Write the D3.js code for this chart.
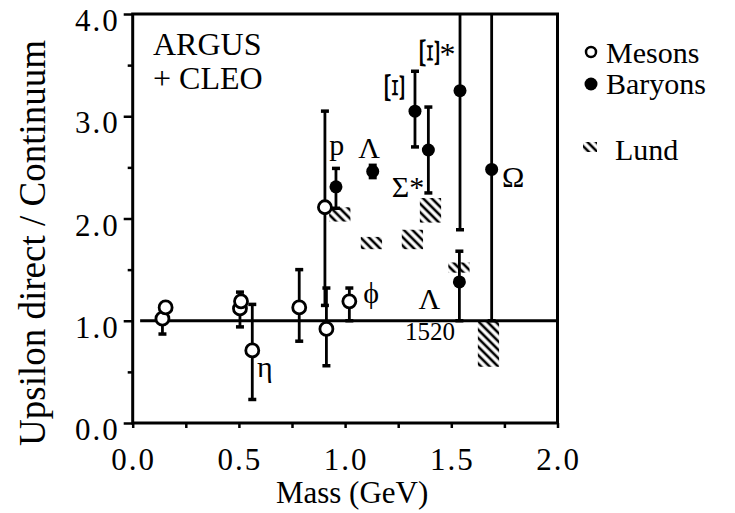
<!DOCTYPE html>
<html>
<head>
<meta charset="utf-8">
<script src="https://cdn.jsdelivr.net/npm/d3@7"></script>
<style>
  body { margin: 0; background: #fff; }
  text { font-family: "Liberation Serif", "Times New Roman", serif; fill: #000; }
</style>
</head>
<body>
<script>
// [mass, ratio, errLow, errHigh]  (null = no error bar)
var mesons = [
  [0.140, 1.02, 0.87, 1.14],
  [0.155, 1.13, null, null],
  [0.505, 1.12, 0.94, 1.28],
  [0.510, 1.19, null, null],
  [0.563, 0.71, 0.23, 1.16],
  [0.784, 1.13, 0.80, 1.50],
  [0.905, 2.11, 1.15, 3.05],
  [0.912, 0.92, 0.56, 1.32],
  [1.020, 1.19, 1.00, 1.32]
];
var baryons = [
  [0.957, 2.31, 2.10, 2.49],
  [1.130, 2.46, 2.40, 2.52],
  [1.329, 3.05, 2.70, 3.44],
  [1.392, 2.67, 2.25, 3.09],
  [1.541, 3.25, 1.89, 4.00],
  [1.690, 2.48, 1.00, 4.00],
  [1.538, 1.38, 1.00, 1.68]
];
// Lund prediction bands: [mass, low, high]
var lund = [
  [0.975, 1.97, 2.11],
  [1.124, 1.70, 1.82],
  [1.317, 1.70, 1.89],
  [1.402, 1.96, 2.20],
  [1.536, 1.47, 1.57],
  [1.675, 0.55, 0.99]
];
// particle labels: [text, mass, ratio, size, rotate]
var labels = [
  ["p", 0.925, 2.62, 30, 0],
  ["Λ", 1.062, 2.59, 30, 0],
  ["Ξ", 1.235, 3.28, 30, 90],
  ["Ξ", 1.400, 3.62, 30, 90],
  ["*", 1.445, 3.50, 32, 0],
  ["Σ*", 1.220, 2.21, 30, 0],
  ["Ω", 1.739, 2.31, 30, 0],
  ["ϕ", 1.085, 1.17, 30, 0],
  ["η", 0.585, 0.45, 30, 0],
  ["Λ", 1.345, 1.115, 30, 0],
  ["1520", 1.282, 0.81, 25, 0]
];
var xTicks = [0, 0.5, 1.0, 1.5, 2.0];
var yTicks = [0, 1, 2, 3, 4];

var width = 735, height = 513;
var pLeft = 132.7, pRight = 557.5, pTop = 14, pBottom = 423;

var svg = d3.select("body").append("svg")
  .attr("width", width).attr("height", height);

var x = d3.scaleLinear().domain([0, 2]).range([pLeft, pRight]);
var y = d3.scaleLinear().domain([0, 4]).range([pBottom, pTop]);

// hatch pattern for Lund
var defs = svg.append("defs");
defs.append("pattern")
  .attr("id", "hatch")
  .attr("patternUnits", "userSpaceOnUse")
  .attr("width", 6).attr("height", 6)
  .attr("patternTransform", "rotate(-45)")
  .append("line")
  .attr("x1", 3).attr("y1", 0).attr("x2", 3).attr("y2", 6)
  .attr("stroke", "#000").attr("stroke-width", 2.6);

// axes (ticks outward)
var xAxis = svg.append("g")
  .attr("transform", "translate(0," + pBottom + ")")
  .call(d3.axisBottom(x).tickValues(d3.range(0, 2.01, 0.25)).tickSize(5).tickFormat(""));
var yAxis = svg.append("g")
  .attr("transform", "translate(" + pLeft + ",0)")
  .call(d3.axisLeft(y).tickValues(d3.range(0, 4.01, 0.5)).tickSize(5).tickFormat(""));
[xAxis, yAxis].forEach(function(a){
  a.select(".domain").remove();
  a.selectAll(".tick line").attr("stroke", "#000").attr("stroke-width", 2.5);
});
// major y ticks a bit longer
yAxis.selectAll(".tick line").filter(function(d){ return d % 1 === 0; }).attr("x2", -9);

svg.selectAll(".xlab").data(xTicks).enter().append("text")
  .attr("x", function(d){ return x(d) + 1; })
  .attr("y", pBottom + 47)
  .attr("text-anchor", "middle")
  .style("font-size", "31px").style("letter-spacing", "2px")
  .text(function(d){ return d.toFixed(1); });
svg.selectAll(".ylab").data(yTicks).enter().append("text")
  .attr("x", pLeft - 13)
  .attr("y", function(d){ return y(d) + 17; })
  .attr("text-anchor", "end")
  .style("font-size", "31px").style("letter-spacing", "2px")
  .text(function(d){ return d.toFixed(1); });

// frame
svg.append("rect")
  .attr("x", pLeft).attr("y", pTop)
  .attr("width", pRight - pLeft).attr("height", pBottom - pTop)
  .attr("fill", "none").attr("stroke", "#000").attr("stroke-width", 3);

// reference line at 1
svg.append("line")
  .attr("x1", x(0.035)).attr("x2", pRight)
  .attr("y1", y(1)).attr("y2", y(1))
  .attr("stroke", "#000").attr("stroke-width", 3);

// axis titles
svg.append("text")
  .attr("x", (pLeft + pRight) / 2 + 7).attr("y", 503)
  .attr("text-anchor", "middle")
  .style("font-size", "31px")
  .text("Mass (GeV)");
svg.append("text")
  .attr("transform", "translate(45," + 243 + ") rotate(-90)")
  .attr("text-anchor", "middle")
  .style("font-size", "37px")
  .text("Upsilon direct / Continuum");

svg.append("text").attr("x", 153).attr("y", 55).style("font-size", "32px").text("ARGUS");
svg.append("text").attr("x", 153).attr("y", 89).style("font-size", "32px").text("+ CLEO");

// Lund bands
svg.selectAll(".lund").data(lund).enter().append("rect")
  .attr("x", function(d){ return x(d[0] - 0.05); })
  .attr("width", function(d){ return x(0.1) - x(0); })
  .attr("y", function(d){ return y(d[2]); })
  .attr("height", function(d){ return y(d[1]) - y(d[2]); })
  .attr("fill", "url(#hatch)");

// error bars
function errorBars(data) {
  var g = svg.append("g").attr("stroke", "#000").attr("stroke-width", 2.8);
  var e = data.filter(function(d){ return d[2] !== null; });
  g.selectAll(".bar").data(e).enter().append("line")
    .attr("x1", function(d){ return x(d[0]); }).attr("x2", function(d){ return x(d[0]); })
    .attr("y1", function(d){ return y(d[2]); }).attr("y2", function(d){ return y(d[3]); });
  var caps = [];
  e.forEach(function(d){
    caps.push([d[0], d[2]]);
    if (d[3] < 4) caps.push([d[0], d[3]]);
  });
  g.selectAll(".cap").data(caps).enter().append("line")
    .attr("x1", function(d){ return x(d[0]) - 4; }).attr("x2", function(d){ return x(d[0]) + 4; })
    .attr("y1", function(d){ return y(d[1]); }).attr("y2", function(d){ return y(d[1]); })
    .attr("stroke-width", 3.5);
}
errorBars(mesons);
errorBars(baryons);

svg.selectAll(".meson").data(mesons).enter().append("circle")
  .attr("cx", function(d){ return x(d[0]); })
  .attr("cy", function(d){ return y(d[1]); })
  .attr("r", 6.5)
  .attr("fill", "#fff").attr("stroke", "#000").attr("stroke-width", 2.8);

svg.selectAll(".baryon").data(baryons).enter().append("circle")
  .attr("cx", function(d){ return x(d[0]); })
  .attr("cy", function(d){ return y(d[1]); })
  .attr("r", 6.5)
  .attr("fill", "#000");

// rotated labels get stretched along their rotated axis to match the scan
svg.selectAll(".plab").data(labels).enter().append("text")
  .attr("transform", function(d){
    var t = "translate(" + x(d[1]) + "," + y(d[2]) + ")";
    return d[4] ? t + " rotate(" + d[4] + ") scale(1.7,1)" : t;
  })
  .attr("text-anchor", function(d){ return d[4] ? "middle" : "start"; })
  .attr("dy", function(d){ return d[4] ? "0.33em" : 0; })
  .style("font-size", function(d){ return d[3] + "px"; })
  .text(function(d){ return d[0]; });

// legend
var lg = svg.append("g");
lg.append("circle").attr("cx", 591).attr("cy", 52).attr("r", 5)
  .attr("fill", "#fff").attr("stroke", "#000").attr("stroke-width", 2.5);
lg.append("text").attr("x", 606).attr("y", 63).style("font-size", "30px").text("Mesons");
lg.append("circle").attr("cx", 591).attr("cy", 84).attr("r", 6.5).attr("fill", "#000");
lg.append("text").attr("x", 606).attr("y", 94).style("font-size", "30px").text("Baryons");
lg.append("rect").attr("x", 583).attr("y", 142).attr("width", 14).attr("height", 10)
  .attr("fill", "url(#hatch)");
lg.append("text").attr("x", 615).attr("y", 160).style("font-size", "30px").text("Lund");
</script>
</body>
</html>
